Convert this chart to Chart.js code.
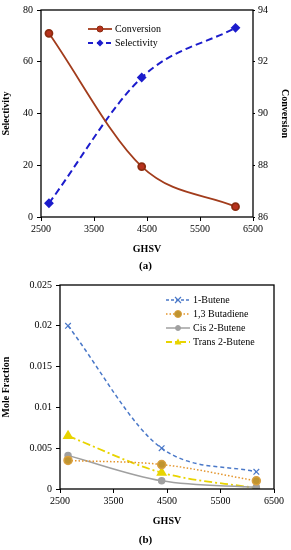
<!DOCTYPE html>
<html>
<head>
<meta charset="utf-8">
<script src="https://cdn.jsdelivr.net/npm/chart.js@4.4.1/dist/chart.umd.min.js"></script>
<style>
  body { margin: 0; background: #fff; font-family: "Liberation Serif", serif; }
  #wrap { position: relative; width: 291px; height: 550px; overflow: hidden; }
  canvas { position: absolute; left: 0; }
  .cap { position: absolute; width: 291px; text-align: center; font-weight: bold; font-size: 11px; }
  .leg { position: absolute; font-size: 10px; line-height: 14px; }
  .leg div { display: flex; align-items: center; height: 14px; }
  .leg svg { margin-right: 3px; }
</style>
</head>
<body>
<div id="wrap">
  <canvas id="chartA" width="291" height="275" style="top:0"></canvas>
  <canvas id="chartB" width="291" height="275" style="top:275px"></canvas>
  <div class="cap" style="top:259px">(a)</div>
  <div class="cap" style="top:533px">(b)</div>
  <div class="leg" id="legA" style="left:88px; top:22px"></div>
  <div class="leg" id="legB" style="left:166px; top:293px"></div>
</div>
<script>
// GHSV values of the three runs
const ghsv = [2650, 4400, 6170];
const xTicks = [2500, 3500, 4500, 5500, 6500];

// (a) conversion (right axis) and selectivity (left axis)
const conversion = [93.1, 87.95, 86.4];
const selectivity = [5.3, 53.9, 73.1];

// (b) mole fractions
const butene1 = [0.02, 0.005, 0.0021];
const butadiene = [0.0035, 0.003, 0.001];
const cisButene = [0.0041, 0.001, 0.0002];
const transButene = [0.0065, 0.002, 0.0001];

const serif = "'Liberation Serif', 'Times New Roman', serif";
Chart.defaults.font.family = serif;
Chart.defaults.font.size = 10;
Chart.defaults.color = '#000';

const pts = ys => ys.map((y, i) => ({ x: ghsv[i], y: y }));

// black frame round the plot area
const frame = {
    id: 'frame',
    afterDatasetsDraw(chart) {
        const a = chart.chartArea, ctx = chart.ctx;
        ctx.save();
        ctx.strokeStyle = '#000';
        ctx.lineWidth = 1.3;
        ctx.strokeRect(a.left, a.top, a.right - a.left, a.bottom - a.top);
        ctx.restore();
    }
};

function tickGrid(len) {
    return { display: true, drawOnChartArea: false, drawTicks: true, tickLength: len, color: '#000' };
}

function xAxis(height, titlePad) {
    return {
        type: 'linear', min: 2500, max: 6500,
        afterBuildTicks: s => { s.ticks = xTicks.map(v => ({ value: v })); },
        afterFit: s => { s.height = height; },
        border: { display: false },
        grid: tickGrid(4),
        ticks: { callback: v => String(v), padding: 2, maxRotation: 0 },
        title: { display: true, text: 'GHSV', font: { weight: 'bold', size: 10 }, padding: { top: 0, bottom: titlePad } }
    };
}

new Chart(document.getElementById('chartA'), {
    type: 'line',
    data: {
        datasets: [{
            label: 'Conversion',
            data: pts(conversion),
            yAxisID: 'y1',
            borderColor: '#a23c1c',
            backgroundColor: '#b8321e',
            pointBorderColor: '#8c2c10',
            borderWidth: 1.8,
            pointRadius: 3.5,
            cubicInterpolationMode: 'monotone'
        }, {
            label: 'Selectivity',
            data: pts(selectivity),
            yAxisID: 'y',
            borderColor: '#1c1ccc',
            backgroundColor: '#1c1ccc',
            borderDash: [7, 4],
            borderWidth: 2,
            pointStyle: 'rectRot',
            pointRadius: 3.5,
            cubicInterpolationMode: 'monotone'
        }]
    },
    options: {
        responsive: false,
        animation: false,
        layout: { padding: { top: 7, left: 0, right: 0, bottom: 0 } },
        plugins: { legend: { display: false }, tooltip: { enabled: false } },
        scales: {
            x: xAxis(58, 20),
            y: {
                position: 'left', min: 0, max: 80,
                ticks: { stepSize: 20, padding: 4 },
                afterFit: s => { s.width = 41; },
                border: { display: false },
                grid: tickGrid(4),
                title: { display: true, text: 'Selectivity', font: { weight: 'bold', size: 10 }, padding: 0 }
            },
            y1: {
                position: 'right', min: 86, max: 94,
                ticks: { stepSize: 2, padding: 3 },
                afterFit: s => { s.width = 38; },
                border: { display: false },
                grid: tickGrid(2),
                title: { display: true, text: 'Conversion', font: { weight: 'bold', size: 10 }, padding: 0 }
            }
        }
    },
    plugins: [frame]
});

new Chart(document.getElementById('chartB'), {
    type: 'line',
    data: {
        datasets: [{
            label: '1-Butene',
            data: pts(butene1),
            borderColor: '#4a78c8',
            backgroundColor: '#4a78c8',
            borderDash: [4, 3],
            borderWidth: 1.5,
            pointStyle: 'crossRot',
            pointRadius: 4,
            pointBorderWidth: 1.2,
            cubicInterpolationMode: 'monotone'
        }, {
            label: '1,3 Butadiene',
            data: pts(butadiene),
            borderColor: '#e4952c',
            backgroundColor: '#bf9430',
            pointBorderColor: '#d9a040',
            borderDash: [1.5, 2],
            borderWidth: 1.5,
            pointRadius: 4,
            cubicInterpolationMode: 'monotone'
        }, {
            label: 'Cis 2-Butene',
            data: pts(cisButene),
            borderColor: '#a0a0a0',
            backgroundColor: '#a0a0a0',
            borderWidth: 1.5,
            pointRadius: 3,
            cubicInterpolationMode: 'monotone'
        }, {
            label: 'Trans 2-Butene',
            data: pts(transButene),
            borderColor: '#e8d400',
            backgroundColor: '#e8d400',
            borderDash: [8, 3, 2, 3],
            borderWidth: 1.8,
            pointStyle: 'triangle',
            pointRadius: 4.5,
            cubicInterpolationMode: 'monotone'
        }]
    },
    options: {
        responsive: false,
        animation: false,
        layout: { padding: { top: 6, left: 0, right: 17, bottom: 0 } },
        plugins: { legend: { display: false }, tooltip: { enabled: false } },
        scales: {
            x: xAxis(61, 23),
            y: {
                min: 0, max: 0.025,
                ticks: { stepSize: 0.005, padding: 4, callback: v => String(+v.toFixed(3)) },
                afterFit: s => { s.width = 60; },
                border: { display: false },
                grid: tickGrid(4),
                title: { display: true, text: 'Mole Fraction', font: { weight: 'bold', size: 10 }, padding: 0 }
            }
        }
    },
    plugins: [frame]
});

// legends drawn as small svg samples + text
function marker(style, c, fill, r) {
    if (style === 'rectRot') return `<polygon points="12,${5 - r} ${12 + r},5 12,${5 + r} ${12 - r},5" fill="${fill}"/>`;
    if (style === 'crossRot') return `<path d="M${12 - r},${5 - r}L${12 + r},${5 + r}M${12 + r},${5 - r}L${12 - r},${5 + r}" stroke="${c}" stroke-width="1.2"/>`;
    if (style === 'triangle') return `<polygon points="12,${5 - r} ${12 + r},${5 + r * 0.7} ${12 - r},${5 + r * 0.7}" fill="${fill}"/>`;
    return `<circle cx="12" cy="5" r="${r}" fill="${fill}" stroke="${c}" stroke-width="1"/>`;
}
function legend(id, items) {
    document.getElementById(id).innerHTML = items.map(it =>
        `<div><svg width="24" height="10"><line x1="0" y1="5" x2="24" y2="5" stroke="${it.c}" stroke-width="${it.w}" stroke-dasharray="${it.dash}"/>` +
        marker(it.style, it.mc || it.c, it.fill || it.c, it.r) + `</svg>${it.label}</div>`).join('');
}
legend('legA', [
    { label: 'Conversion', c: '#a23c1c', w: 1.8, dash: '', style: 'circle', fill: '#b8321e', mc: '#8c2c10', r: 3 },
    { label: 'Selectivity', c: '#1c1ccc', w: 2, dash: '5,4', style: 'rectRot', r: 3.5 }
]);
legend('legB', [
    { label: '1-Butene', c: '#4a78c8', w: 1.5, dash: '3,2', style: 'crossRot', r: 3 },
    { label: '1,3 Butadiene', c: '#e4952c', w: 1.5, dash: '1.5,2', style: 'circle', fill: '#bf9430', mc: '#d9a040', r: 3.5 },
    { label: 'Cis 2-Butene', c: '#a0a0a0', w: 1.5, dash: '', style: 'circle', r: 2.5 },
    { label: 'Trans 2-Butene', c: '#e8d400', w: 1.8, dash: '6,3,2,3', style: 'triangle', r: 3.5 }
]);
</script>
</body>
</html>
